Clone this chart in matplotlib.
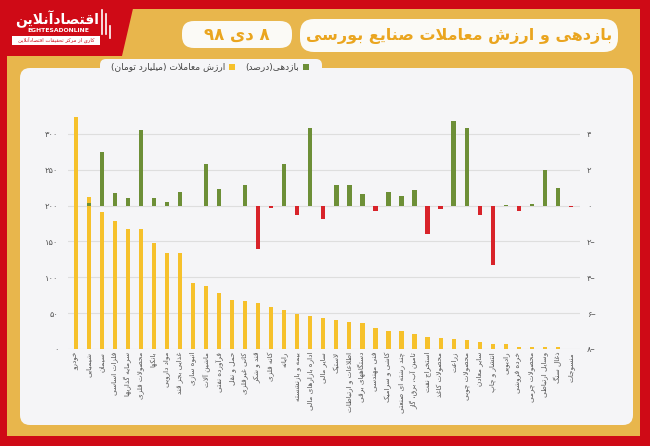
import matplotlib
matplotlib.use("Agg")
import matplotlib.pyplot as plt
import numpy as np
from matplotlib.patches import FancyBboxPatch, Rectangle, Polygon

# -----------------------------
# Data
# -----------------------------
industries = [
    "خودرو", "شیمیایی", "سیمان", "فلزات اساسی", "سرمایه گذاریها", "محصولات فلزی",
    "بانکها", "مواد دارویی", "غذایی بجز قند", "انبوه سازی", "ماشین آلات", "فرآورده نفتی",
    "حمل و نقل", "کانی غیرفلزی", "قند و شکر", "کانه فلزی", "رایانه", "بیمه و بازنشسته",
    "اداره بازارهای مالی", "سایر مالی", "لاستیک", "اطلاعات و ارتباطات", "دستگاههای برقی",
    "فنی مهندسی", "کاشی و سرامیک", "چند رشته ای صنعتی", "تامین آب، برق، گاز", "استخراج نفت",
    "محصولات کاغذ", "زراعت", "محصولات چوبی", "سایر معادن", "انتشار و چاپ", "رادیویی",
    "خرده فروشی", "محصولات چرمی", "وسایل ارتباطی", "ذغال سنگ", "منسوجات",
]
trade_value = [
    324, 212, 191, 178, 168, 167, 148, 134, 134, 92, 88, 78, 68, 67, 64, 59, 54, 49, 46.5,
    43, 40, 37, 36, 29, 25.5, 25, 20.5, 16.5, 15, 13.5, 12.5, 10, 7, 7, 3.3, 2.8, 2.3, 2.3, 0.4,
]
returns_pct = [
    0.0, 0.15, 3.0, 0.7, 0.4, 4.2, 0.43, 0.22, 0.76, -0.05, 2.3, 0.94, 0.0, 1.17, -2.44,
    -0.11, 2.3, -0.5, 4.35, -0.74, 1.15, 1.15, 0.65, -0.33, 0.78, 0.54, 0.85, -1.6, -0.18,
    4.7, 4.3, -0.54, -3.33, 0.02, -0.31, 0.1, 2.0, 1.0, -0.09,
]
left_ticks = [0, 50, 100, 150, 200, 250, 300]
right_ticks = [-8, -6, -4, -2, 0, 2, 4]

title_text = "بازدهی و ارزش معاملات صنایع بورسی"
date_text = "۸ دی ۹۸"
legend_return = "بازدهی(درصد)"
legend_value = "ارزش معاملات (میلیارد تومان)"

RED = "#cf0a16"
GOLD = "#e8b64c"
PANEL = "#f5f5f7"
YELLOW = "#f6c12b"
GREEN = "#6d8f37"
NEG = "#d8232a"
TITLE_GOLD = "#eaa51f"

# -----------------------------
# Minimal Persian shaping + RTL ordering (no external libs available)
# -----------------------------
_JOIN = {
    "ا": (0xFE8D, 2), "آ": (0xFE81, 2), "د": (0xFEA9, 2), "ذ": (0xFEAB, 2),
    "ر": (0xFEAD, 2), "ز": (0xFEAF, 2), "ژ": (0xFB8A, 2), "و": (0xFEED, 2),
    "ب": (0xFE8F, 4), "پ": (0xFB56, 4), "ت": (0xFE95, 4), "ث": (0xFE99, 4),
    "ج": (0xFE9D, 4), "چ": (0xFB7A, 4), "ح": (0xFEA1, 4), "خ": (0xFEA5, 4),
    "س": (0xFEB1, 4), "ش": (0xFEB5, 4), "ص": (0xFEB9, 4), "ض": (0xFEBD, 4),
    "ط": (0xFEC1, 4), "ظ": (0xFEC5, 4), "ع": (0xFEC9, 4), "غ": (0xFECD, 4),
    "ف": (0xFED1, 4), "ق": (0xFED5, 4), "ک": (0xFB8E, 4), "گ": (0xFB92, 4),
    "ل": (0xFEDD, 4), "م": (0xFEE1, 4), "ن": (0xFEE5, 4), "ه": (0xFEE9, 4),
    "ی": (0xFBFC, 4),
}


def _shape(s):
    out = []
    n = len(s)
    i = 0
    while i < n:
        c = s[i]
        if c not in _JOIN:
            out.append(c)
            i += 1
            continue
        prev = s[i - 1] if i > 0 else ""
        joins_prev = prev in _JOIN and _JOIN[prev][1] == 4
        if c == "ل" and i + 1 < n and s[i + 1] in ("ا", "آ"):
            base = 0xFEFB if s[i + 1] == "ا" else 0xFEF5
            out.append(chr(base + (1 if joins_prev else 0)))
            i += 2
            continue
        base, k = _JOIN[c]
        nxt = s[i + 1] if i + 1 < n else ""
        joins_next = k == 4 and nxt in _JOIN
        if joins_prev and joins_next:
            f = 3
        elif joins_prev:
            f = 1
        elif joins_next:
            f = 2
        else:
            f = 0
        out.append(chr(base + f))
        i += 1
    return out


def rtl(s):
    tokens = []
    for g in _shape(s):
        if tokens and g.isdigit() and tokens[-1][-1].isdigit():
            tokens[-1] += g
        elif tokens and g.isascii() and g.isalpha() and tokens[-1][-1].isascii() and tokens[-1][-1].isalpha():
            tokens[-1] += g
        else:
            tokens.append(g)
    mirror = {"(": ")", ")": "("}
    return "".join(mirror.get(t, t) for t in reversed(tokens))


def fa_digits(v):
    return str(v).translate(str.maketrans("0123456789", "۰۱۲۳۴۵۶۷۸۹"))


plt.rcParams["font.family"] = ["DejaVu Sans", "Noto Sans"]

W, H = 650, 446
fig = plt.figure(figsize=(W / 100, H / 100), dpi=100)
fig.patch.set_facecolor(RED)

# background / frame drawn in pixel space
bg = fig.add_axes([0, 0, 1, 1], zorder=-5)
bg.set_xlim(0, W)
bg.set_ylim(H, 0)
bg.axis("off")

bg.add_patch(Rectangle((7, 9), 633, 427, facecolor=GOLD, edgecolor="none"))
bg.add_patch(Polygon([(0, 0), (135, 0), (122, 56), (0, 56)], closed=True, facecolor=RED, edgecolor="none"))
bg.add_patch(Rectangle((0, 0), W, 9, facecolor=RED, edgecolor="none"))
bg.add_patch(FancyBboxPatch((20, 68), 613, 357, boxstyle="round,pad=0,rounding_size=10",
                            facecolor=PANEL, edgecolor="none"))
bg.add_patch(FancyBboxPatch((100, 59), 222, 16, boxstyle="round,pad=0,rounding_size=6",
                            facecolor=PANEL, edgecolor="none"))

# title and date boxes
bg.add_patch(FancyBboxPatch((300, 19), 318, 33, boxstyle="round,pad=0,rounding_size=14",
                            facecolor="#fbfaf6", edgecolor="none"))
bg.text(459, 36, rtl(title_text), ha="center", va="center", fontsize=11.5, fontweight="bold", color=TITLE_GOLD)
bg.add_patch(FancyBboxPatch((182, 21), 110, 27, boxstyle="round,pad=0,rounding_size=12",
                            facecolor="#fbfaf6", edgecolor="none"))
bg.text(237, 35, rtl(date_text), ha="center", va="center", fontsize=12, fontweight="bold", color=TITLE_GOLD)

# logo
bg.text(57, 19, rtl("اقتصادآنلاین"), ha="center", va="center", fontsize=10, fontweight="bold", color="white")
bg.text(58, 31, "EGHTESADONLINE", ha="center", va="center", fontsize=4.4, fontweight="bold", color="white")
bg.add_patch(Rectangle((12, 36), 88, 9, facecolor="white", edgecolor="none"))
bg.text(56, 40.5, rtl("کاری از مرکز تحقیقات اقتصادآنلاین"), ha="center", va="center", fontsize=3.8, color=RED)
for bx, by0, by1 in [(102, 10, 34), (106, 14, 34), (110, 26, 38)]:
    bg.plot([bx, bx], [by0, by1], color="white", lw=1.2)

# legend
bg.add_patch(Rectangle((303, 64), 6, 6, facecolor=GREEN, edgecolor="none"))
bg.text(299, 67, rtl(legend_return), ha="right", va="center", fontsize=6.5, color="#444444")
bg.add_patch(Rectangle((229, 64), 6, 6, facecolor=YELLOW, edgecolor="none"))
bg.text(225, 67, rtl(legend_value), ha="right", va="center", fontsize=6.5, color="#444444")

# -----------------------------
# Main chart
# -----------------------------
ax = fig.add_axes([68 / W, 1 - 349 / H, (580 - 68) / W, (349 - 98) / H])
ax.set_facecolor("none")
x = np.arange(len(industries))
ax.bar(x, trade_value, width=0.32, color=YELLOW, zorder=2)
ax.set_xlim(-0.6, len(industries) - 0.3)
ax.set_ylim(0, 350)
ax.set_yticks(left_ticks)
ax.set_yticklabels([fa_digits(t) for t in left_ticks])
ax.set_xticks(x)
ax.set_xticklabels([rtl(s) for s in industries], rotation=90, color="#444444")
ax.grid(axis="y", color="#dedede", linewidth=0.8, zorder=0)
ax.tick_params(axis="both", length=0, labelsize=6, colors="#555555")
ax.tick_params(axis="x", pad=2, labelsize=5.2)
ax.tick_params(axis="y", pad=7)
for sp in ax.spines.values():
    sp.set_visible(False)

ax2 = ax.twinx()
ax2.set_facecolor("none")
colors = [GREEN if v >= 0 else NEG for v in returns_pct]
ax2.bar(x, returns_pct, width=0.33, color=colors, zorder=3)
ax2.set_ylim(-8, 6)
ax2.set_yticks(right_ticks)
ax2.set_yticklabels([fa_digits(abs(t)) + ("\u2013" if t < 0 else "") for t in right_ticks])
ax2.tick_params(axis="y", length=0, labelsize=6, colors="#555555", pad=5)
for sp in ax2.spines.values():
    sp.set_visible(False)

fig.savefig("out.png", dpi=100, facecolor=fig.get_facecolor())
